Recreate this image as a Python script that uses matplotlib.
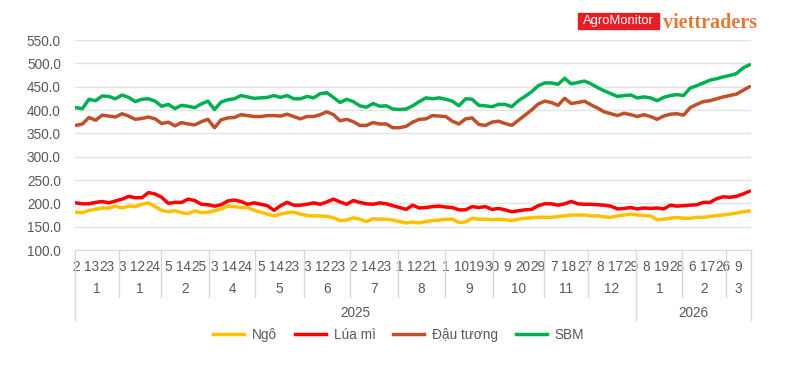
import numpy as np
import matplotlib.pyplot as plt
from matplotlib.transforms import blended_transform_factory
from matplotlib.patches import Rectangle
from matplotlib.lines import Line2D

plt.rcParams['font.family'] = ['Liberation Sans', 'DejaVu Sans']

# category axis: one slot per trading day, grouped by month and year
month_counts = [20, 19, 22, 21, 22, 21, 22, 21, 22, 23, 20, 22, 21, 20, 11]
month_labels = ["1", "1", "2", "4", "5", "6", "7", "8", "9", "10", "11", "12", "1", "2", "3"]
year_labels = ["2025", "2026"]
year_months = [12, 3]
# day labels that Excel shows (every 7th category)
day_labels = ["2", "13", "23", "3", "12", "24", "5", "14", "25", "3", "14", "24",
              "5", "14", "23", "3", "12", "23", "2", "14", "23", "1", "12", "21",
              "1", "10", "19", "30", "9", "20", "29", "7", "18", "27", "8", "17", "29",
              "8", "19", "28", "6", "17", "26", "9"]

# prices, read every 3rd trading day
ngo = [181, 180, 185, 187, 190, 190, 194, 190, 194, 193, 198, 201, 193, 185, 182, 184, 180, 178, 184, 180, 181, 184, 188, 194, 193, 191,
       191, 185, 181, 177, 173, 177, 180, 181, 177, 174, 173, 173, 172, 169, 163, 164, 169, 166, 161, 167, 166, 166, 164, 161, 158, 160,
       158, 161, 163, 164, 166, 166, 159, 160, 168, 166, 166, 165, 166, 165, 163, 166, 168, 169, 170, 170, 170, 172, 173, 175, 175, 175,
       173, 173, 171, 170, 173, 175, 177, 175, 174, 173, 165, 166, 168, 170, 168, 168, 170, 170, 172, 174, 175, 177, 179, 182, 184]
lua_mi = [201, 199, 199, 202, 204, 201, 205, 209, 215, 212, 212, 223, 220, 213, 200, 202, 202, 209, 206, 198, 197, 194, 197, 205, 207, 204,
          198, 201, 198, 195, 185, 195, 202, 196, 196, 198, 201, 198, 203, 209, 203, 198, 206, 202, 199, 198, 201, 199, 195, 191, 187, 196,
          190, 191, 193, 194, 192, 191, 186, 186, 193, 191, 193, 187, 189, 186, 182, 184, 186, 187, 195, 199, 199, 196, 199, 204, 199, 198,
          198, 197, 196, 194, 188, 189, 191, 188, 190, 189, 190, 188, 196, 194, 195, 196, 197, 202, 202, 210, 214, 213, 215, 220, 226]
dau_tuong = [367, 370, 384, 378, 389, 387, 385, 392, 387, 380, 382, 385, 381, 371, 374, 366, 373, 370, 368, 375, 380, 362, 379, 383, 384, 390,
             388, 386, 386, 388, 388, 387, 391, 386, 381, 386, 386, 390, 396, 390, 377, 380, 375, 367, 367, 373, 370, 370, 362, 362, 365, 374,
             380, 381, 388, 387, 386, 376, 370, 381, 383, 369, 367, 374, 376, 371, 367, 378, 389, 400, 413, 419, 416, 410, 425, 414, 416, 419,
             411, 404, 396, 392, 388, 393, 390, 386, 390, 386, 380, 387, 391, 392, 389, 405, 412, 418, 420, 424, 428, 431, 434, 442, 450]
sbm = [405, 403, 423, 420, 430, 429, 424, 432, 427, 418, 423, 424, 419, 408, 412, 403, 410, 408, 405, 413, 419, 401, 417, 422, 424, 431,
       428, 425, 426, 427, 431, 427, 431, 424, 424, 429, 426, 435, 437, 427, 416, 423, 418, 409, 406, 414, 408, 409, 402, 401, 402, 409,
       418, 426, 424, 426, 423, 419, 409, 424, 423, 410, 409, 407, 412, 412, 407, 420, 429, 439, 452, 458, 458, 455, 468, 456, 459, 462,
       456, 448, 441, 435, 429, 431, 432, 426, 428, 426, 420, 427, 431, 433, 431, 447, 452, 458, 464, 467, 471, 474, 478, 490, 497]

series_names = ["Ngô", "Lúa mì", "Đậu tương", "SBM"]
colors = ["#FFC000", "#FF0000", "#C0502A", "#00B050"]

N = sum(month_counts)
x = np.arange(0, N, 3)
txt = "#595959"
grid = "#E3E3E3"
fs = 9.8

fig = plt.figure(figsize=(7.97, 3.67), dpi=100)
ax = fig.add_axes([74.7 / 797, 1 - 250 / 367, 676 / 797, 210 / 367])

for vals, c in zip([ngo, lua_mi, dau_tuong, sbm], colors):
    ax.plot(x, vals, color=c, lw=2.5, solid_joinstyle='round', solid_capstyle='round')

ax.set_xlim(-0.5, N - 0.5)
ax.set_ylim(100, 550)
ax.set_yticks(np.arange(100, 551, 50))
ax.set_yticklabels([f"{v:.1f}" for v in range(100, 551, 50)])
ax.yaxis.grid(True, color=grid, lw=1)
ax.set_axisbelow(True)
for s in ["top", "right", "left"]:
    ax.spines[s].set_visible(False)
ax.spines["bottom"].set_color("#D9D9D9")
ax.tick_params(axis='y', length=0, pad=10, labelsize=fs, labelcolor=txt)

ax.set_xticks(np.arange(0, N, 7))
ax.set_xticklabels(day_labels)
ax.tick_params(axis='x', length=0, pad=7.5, labelsize=fs, labelcolor=txt)

# multi-level category axis: month and year rows with separators
tr = blended_transform_factory(ax.transData, ax.transAxes)
bounds = np.concatenate([[0], np.cumsum(month_counts)])
year_bounds = [bounds[0], bounds[year_months[0]], bounds[-1]]
for b in bounds:
    low = -0.333 if b in year_bounds else -0.224
    ax.plot([b - 0.5, b - 0.5], [0, low], color="#D9D9D9", lw=1, transform=tr, clip_on=False)
for i, lab in enumerate(month_labels):
    ax.text((bounds[i] + bounds[i + 1]) / 2 - 0.5, -0.186, lab, transform=tr,
            ha='center', va='center', fontsize=fs, color=txt)
for i, lab in enumerate(year_labels):
    ax.text((year_bounds[i] + year_bounds[i + 1]) / 2 - 0.5, -0.30, lab, transform=tr,
            ha='center', va='center', fontsize=fs, color=txt)

handles = [Line2D([], [], color=c, lw=2.5) for c in colors]
fig.legend(handles, series_names, loc='center', bbox_to_anchor=(0.5, 1 - 335 / 367),
           ncol=4, frameon=False, handlelength=2.3, handletextpad=0.55,
           columnspacing=1.3, prop={'size': fs}, labelcolor=txt)

# logo
fig.patches.append(Rectangle((578 / 797, 1 - 29 / 367), 81 / 797, 16 / 367,
                             transform=fig.transFigure, color="#E41E26"))
fig.text(618.5 / 797, 1 - 21 / 367, "AgroMonitor", color="white", fontsize=9.4,
         ha='center', va='center')
fig.text(663 / 797, 1 - 28.3 / 367, "viettraders", color="#E07A3A", fontsize=14.5,
         fontweight='bold', family='Liberation Serif', ha='left', va='baseline')

fig.savefig("out.png", dpi=100)
